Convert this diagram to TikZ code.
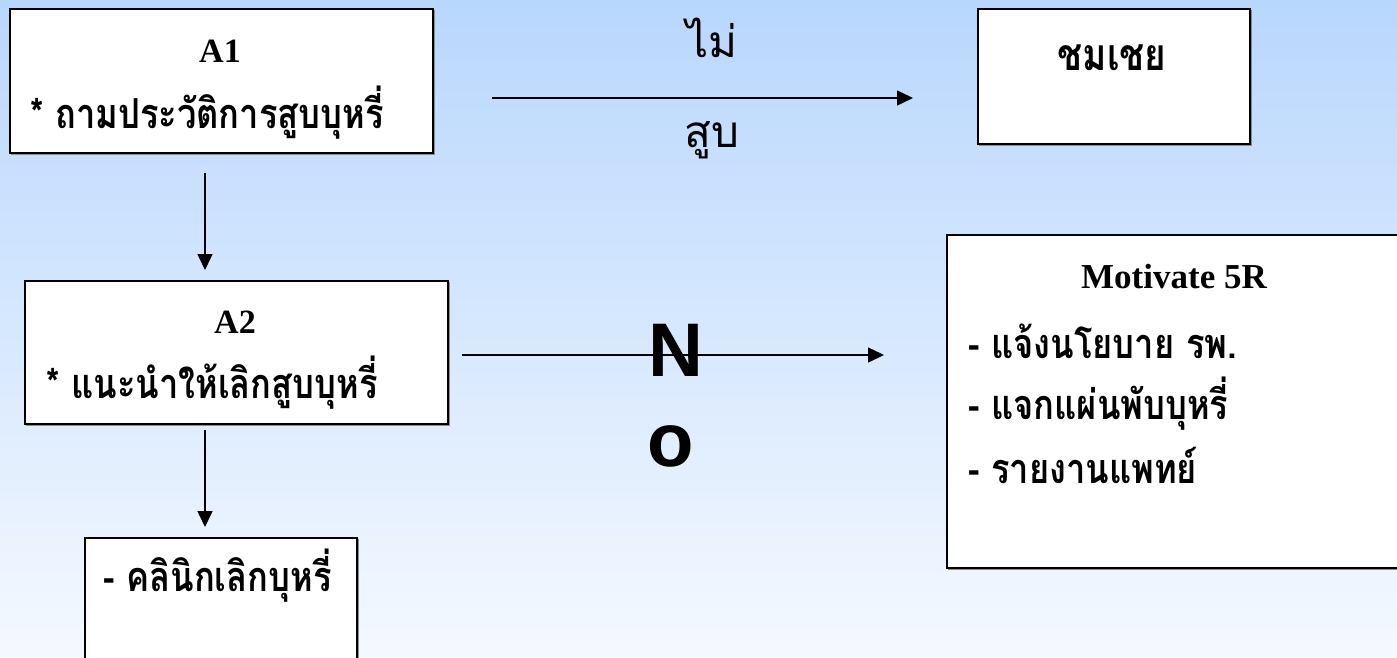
\documentclass[tikz,border=0pt]{standalone}
\usepackage{fontspec}
\setmainfont{Liberation Serif}
\newfontfamily\thai[Script=Thai]{Loma}
\newfontfamily\sansb{Liberation Sans}
\usetikzlibrary{arrows.meta}
\definecolor{bgtop}{RGB}{184,215,253}
\definecolor{bgbot}{RGB}{245,249,255}
\tikzset{
  box/.style={draw=black, line width=1.8pt, fill=white, inner sep=0pt,
    preaction={draw=black!45, line width=1.6pt, transform canvas={shift={(1.5pt,-1.5pt)}}}},
  arr/.style={line width=1.5pt, -{Triangle[length=16pt,width=15pt]}},
  ttl/.style={font=\fontsize{34}{38}\selectfont\bfseries, inner sep=0pt},
  th/.style={font=\thai\fontsize{34.5}{38}\selectfont\bfseries, anchor=west, inner sep=0pt, yscale=1.2, transform shape},
  lbl/.style={font=\thai\fontsize{44}{48}\selectfont, inner sep=0pt},
}
\begin{document}
\begin{tikzpicture}[x=1pt,y=-1pt]
\shade[top color=bgtop, bottom color=bgbot] (0,0) rectangle (1397,657);
\useasboundingbox (0,0) rectangle (1397,657);
% boxes
\node[box, minimum width=423pt, minimum height=144pt, anchor=north west] (a1) at (9,8) {};
\node[box, minimum width=272pt, minimum height=135pt, anchor=north west] (praise) at (977,8) {};
\node[box, minimum width=423pt, minimum height=143pt, anchor=north west] (a2) at (24,280) {};
\node[box, minimum width=272pt, minimum height=140pt, anchor=north west] (clinic) at (84,537) {};
\node[box, minimum width=470pt, minimum height=333pt, anchor=north west] (mot) at (946,234) {};
% texts
\node[ttl] (a1t) at (220,51) {A1};
\node[th] (a1s) at (30,113) {* ถามประวัติการสูบบุหรี่};
\node[th, anchor=center, font=\thai\fontsize{37}{40}\selectfont\bfseries] (prt) at (1112,58) {ชมเชย};
\node[ttl] (a2t) at (235,322) {A2};
\node[th] (a2s) at (46,383) {* แนะนำให้เลิกสูบบุหรี่};
\node[th] (clt) at (103,576) {- คลินิกเลิกบุหรี่};
\node[ttl, font=\fontsize{35}{38}\selectfont\bfseries] (mott) at (1174,277) {Motivate 5R};
\node[th] (m1) at (968,341) {- แจ้งนโยบาย รพ.};
\node[th] (m2) at (968,404) {- แจกแผ่นพับบุหรี่};
\node[th] (m3) at (968,465) {- รายงานแพทย์};
% connectors
\coordinate (r1s) at (492,98);
\coordinate (r1e) at (913,98);
\draw[arr] (r1s) -- (r1e);
\node[lbl] (mai) at (712,38) {ไม่};
\node[lbl] (sub) at (712,140) {สูบ};
\coordinate (d1s) at (205,173);
\coordinate (d1e) at (205,270);
\draw[arr] (d1s) -- (d1e);
\coordinate (r2s) at (462,355);
\coordinate (r2e) at (884,355);
\draw[arr] (r2s) -- (r2e);
\node[font=\sansb\fontsize{76}{80}\selectfont\bfseries, inner sep=0pt] (nN) at (676,350) {N};
\node[font=\sansb\fontsize{76}{80}\selectfont\bfseries, inner sep=0pt] (nO) at (671,446) {o};
\coordinate (d2s) at (205,430);
\coordinate (d2e) at (205,527);
\draw[arr] (d2s) -- (d2e);
\end{tikzpicture}
\end{document}
